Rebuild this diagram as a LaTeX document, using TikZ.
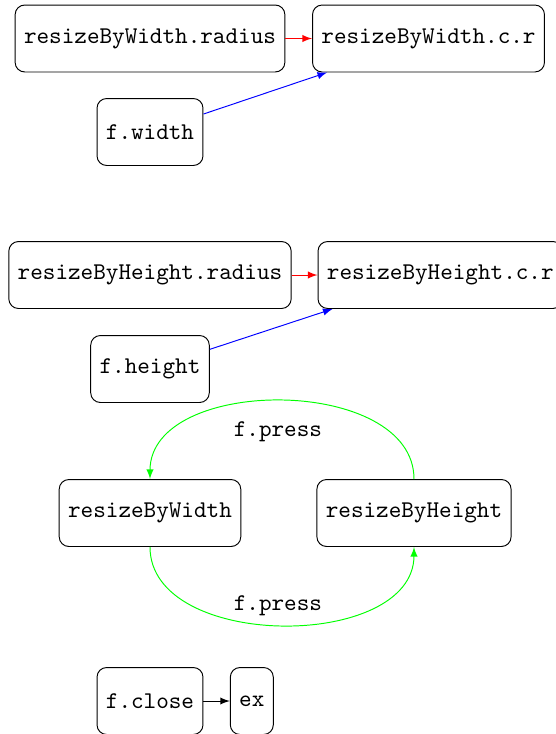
\documentclass[tikz,border=0pt]{standalone}
\usetikzlibrary{positioning}

\tikzstyle{b} = [rectangle, draw, fill=none, text centered, rounded corners=4pt, minimum height=27.9pt, inner xsep=3.7pt, font=\ttfamily]
\tikzstyle{l} = [draw, -latex]

\begin{document}
\begin{tikzpicture}[x=0.4167pt, y=-0.4167pt]
    \useasboundingbox (0,0) rectangle (555,734);
    % Place nodes
    \node [b] (wradius) at (150,38.5) {resizeByWidth.radius};
    \node [b] (wcr) at (428.5,38.5) {resizeByWidth.c.r};
    \node [b] (fwidth) at (150,132) {f.width};
    \node [b] (hradius) at (150,275) {resizeByHeight.radius};
    \node [b] (hcr) at (440.3,275) {resizeByHeight.c.r};
    \node [b] (fheight) at (150,369) {f.height};
    \node [b] (rbw) at (150,513) {resizeByWidth};
    \node [b] (rbh) at (414,513) {resizeByHeight};
    \node [b] (fclose) at (150,701) {f.close};
    \node [b, right=11pt of fclose] (ex) {ex};

    % Draw edges
    \path [l, red] (wradius) -- (wcr);
    \path [l, blue] (fwidth) -- ([xshift=6.25pt]wcr.south west);
    \path [l, red] (hradius) -- (hcr);
    \path [l, blue] (fheight) -- ([xshift=6.25pt]hcr.south west);
    \path [l, green] (rbh.north) .. controls +(0,-104) and +(0,-104) .. node [midway, below=5.2pt, xshift=-1.7pt, black] {\ttfamily f.press} (rbw.north);
    \path [l, green] (rbw.south) .. controls +(0,104) and +(0,104) .. node [midway, above=0.3pt, xshift=-1.7pt, black] {\ttfamily f.press} (rbh.south);
    \path [l] (fclose) -- (ex);

\end{tikzpicture}
\end{document}
